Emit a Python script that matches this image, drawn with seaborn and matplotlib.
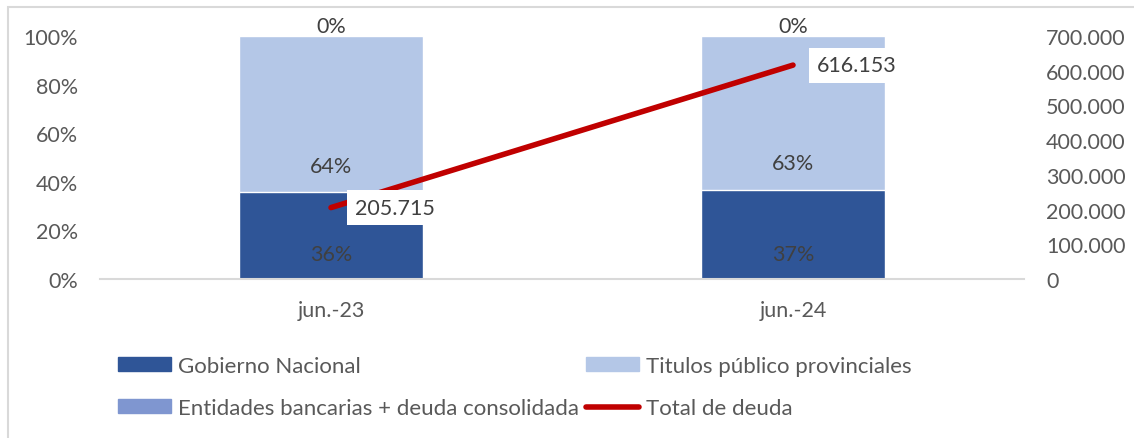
import numpy as np
import pandas as pd
import seaborn as sns
import matplotlib.pyplot as plt
from matplotlib.patches import Patch, Rectangle
from matplotlib.lines import Line2D
from matplotlib.ticker import FuncFormatter, MultipleLocator

# ================= datos =================
periodos = ['jun.-23', 'jun.-24']
gobierno_nacional = [0.357, 0.367]
titulos_provinciales = [0.643, 0.633]
entidades_bancarias = [0.0, 0.0]
total_deuda = [205715, 616153]

series_names = ['Gobierno Nacional', 'Titulos público provinciales',
                'Entidades bancarias + deuda consolidada', 'Total de deuda']

# colores
c_gob = '#2F5597'
c_tit = '#B4C7E7'
c_ent = '#7F96D0'
c_tot = '#C00000'
c_txt = '#595959'
c_lab = '#404040'

sns.set_theme(style='white')
plt.rcParams['font.family'] = ['Lato', 'DejaVu Sans']
fs = 15.5


def miles(v, pos=None):
    return f"{v:,.0f}".replace(',', '.')


df = pd.DataFrame({'periodo': periodos,
                   'gob': gobierno_nacional,
                   'tit': titulos_provinciales,
                   'ent': entidades_bancarias,
                   'total': total_deuda})
df['cum_gob'] = df['gob']
df['cum_tit'] = df['gob'] + df['tit']
df['cum_ent'] = df['cum_tit'] + df['ent']

fig = plt.figure(figsize=(11.34, 4.39), dpi=100)
ax = fig.add_axes([100 / 1134, 1 - 280 / 439, 924 / 1134, 243 / 439])

# barras apiladas (de mayor a menor acumulado)
sns.barplot(data=df, x='periodo', y='cum_ent', color=c_ent, width=0.4, saturation=1, ax=ax)
sns.barplot(data=df, x='periodo', y='cum_tit', color=c_tit, width=0.4, saturation=1, ax=ax)
sns.barplot(data=df, x='periodo', y='cum_gob', color=c_gob, width=0.4, saturation=1, ax=ax)

ax.set_xlim(-0.5, len(periodos) - 0.5)
ax.set_ylim(0, 1)
ax.yaxis.set_major_locator(MultipleLocator(0.2))
ax.yaxis.set_major_formatter(FuncFormatter(lambda v, p: f"{v:.0%}"))
ax.set_xlabel('')
ax.set_ylabel('')
for s in ['top', 'left', 'right']:
    ax.spines[s].set_visible(False)
ax.spines['bottom'].set_color('#D9D9D9')
ax.spines['bottom'].set_linewidth(1.5)
ax.tick_params(axis='x', length=0, pad=15, labelsize=fs, labelcolor=c_txt)
ax.tick_params(axis='y', length=0, pad=16, labelsize=fs, labelcolor=c_txt)

# etiquetas de porcentaje (posición: base interior)
for i in range(len(periodos)):
    ax.annotate(f"{df['gob'][i]:.0%}", xy=(i, 0), xytext=(0, 18), textcoords='offset points',
                ha='center', va='center', fontsize=fs, color=c_lab)
    ax.annotate(f"{df['tit'][i]:.0%}", xy=(i, df['cum_gob'][i]), xytext=(0, 19),
                textcoords='offset points', ha='center', va='center', fontsize=fs, color=c_lab)
    ax.annotate(f"{df['ent'][i]:.0%}", xy=(i, df['cum_tit'][i]), xytext=(0, 7),
                textcoords='offset points', ha='center', va='center', fontsize=fs, color=c_lab)

# línea total de deuda en eje secundario
ax2 = ax.twinx()
sns.lineplot(x=np.arange(len(periodos)), y=df['total'], color=c_tot, linewidth=4,
             solid_capstyle='round', ax=ax2)
ax2.set_ylim(0, 700000)
ax2.yaxis.set_major_locator(MultipleLocator(100000))
ax2.yaxis.set_major_formatter(FuncFormatter(miles))
ax2.set_ylabel('')
for s in ax2.spines.values():
    s.set_visible(False)
ax2.tick_params(axis='y', length=0, pad=16, labelsize=fs, labelcolor=c_txt)

for i, v in enumerate(df['total']):
    ax2.annotate(miles(v), xy=(i, v), xytext=(17, 0), textcoords='offset points',
                 ha='left', va='center', fontsize=fs, color=c_lab,
                 bbox=dict(boxstyle='square,pad=0.35', fc='white', ec='none'))

# leyenda
handles = [Patch(color=c_gob), Patch(color=c_ent), Patch(color=c_tit),
           Line2D([], [], color=c_tot, lw=4, solid_capstyle='round')]
labels = [series_names[0], series_names[2], series_names[1], series_names[3]]
leg = fig.legend(handles, labels, ncol=2, loc='upper left',
                 bbox_to_anchor=(118 / 1134, 1 - 357 / 439), frameon=False,
                 fontsize=16, labelcolor=c_txt, handlelength=2.4, handleheight=0.6,
                 handletextpad=0.3, columnspacing=0.3, labelspacing=1.0,
                 borderaxespad=0, borderpad=0)

# borde del gráfico
fig.patches.append(Rectangle((7.5 / 1134, -0.1), 1.2, 1.1 - 7.5 / 439, transform=fig.transFigure,
                             fill=False, ec='#D9D9D9', lw=1.5))

fig.savefig('out.png', dpi=100)
